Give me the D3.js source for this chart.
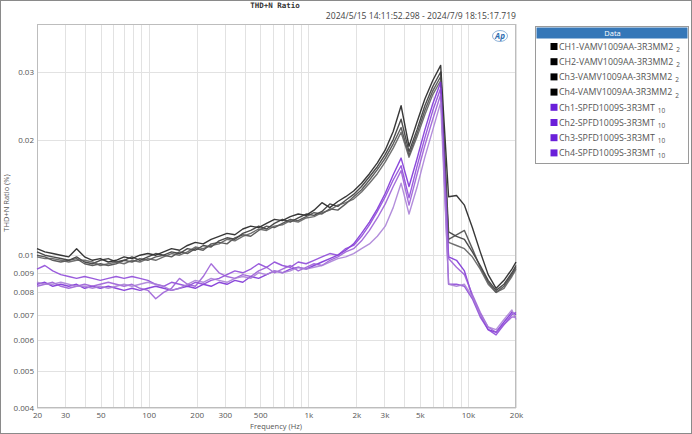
<!DOCTYPE html>
<html><head><meta charset="utf-8">
<script src="https://cdn.jsdelivr.net/npm/d3@7"></script>
<style>
html,body{margin:0;padding:0;background:#fff;}
svg{display:block;font-family:"Open Sans","Noto Sans",sans-serif;}
</style></head>
<body><svg id="c" width="692" height="434"></svg>
<script>
const freqs = [20,22.4,25.1,28.2,31.6,35.4,39.7,44.5,49.8,55.9,62.6,70.2,78.7,88.2,98.9,110.8,124.2,139.2,156.1,175,196.1,219.8,246.4,276.2,309.6,347,389,436,488.8,547.9,614.1,688.4,771.6,864.9,969.5,1087,1218,1365,1531,1716,1923,2156,2416,2708,3036,3403,3814,4276,4793,5372,6022,6750,7566,8481,9506,10656,11944,13388,15007,16822,18856,20000];

const ch1Vamv = [.0104,.0102,.0101,.0100,.0099,.0104,.0099,.0097,.0098,.0096,.0097,.0099,.0098,.0100,.0101,.0100,.0102,.0104,.0103,.0106,.0108,.0107,.0110,.0112,.0114,.0113,.0117,.0119,.0118,.0121,.0124,.0123,.0126,.0128,.0127,.0131,.0137,.0133,.0138,.0142,.0147,.0154,.0163,.0174,.0188,.0210,.0245,.0192,.0222,.0255,.0285,.0312,.0142,.0143,.0135,.0118,.0102,.0089,.0082,.0086,.0092,.0096];
const ch2Vamv = [.0102,.0100,.0099,.0098,.0097,.0099,.0096,.0095,.0097,.0098,.0096,.0097,.0099,.0097,.0099,.0101,.0100,.0102,.0101,.0104,.0103,.0106,.0105,.0109,.0111,.0110,.0114,.0116,.0119,.0117,.0121,.0124,.0122,.0125,.0128,.0127,.0130,.0136,.0134,.0139,.0144,.0151,.0160,.0170,.0183,.0200,.0226,.0186,.0212,.0245,.0275,.0300,.0115,.0112,.0110,.0102,.0094,.0086,.0081,.0084,.0090,.0094];
const ch3Vamv = [.0100,.0099,.0097,.0096,.0097,.0098,.0095,.0094,.0095,.0094,.0095,.0097,.0096,.0098,.0097,.0099,.0100,.0099,.0102,.0101,.0104,.0103,.0107,.0108,.0107,.0111,.0113,.0112,.0116,.0119,.0118,.0121,.0124,.0123,.0126,.0129,.0128,.0132,.0131,.0136,.0142,.0148,.0157,.0167,.0179,.0195,.0215,.0182,.0207,.0238,.0268,.0292,.0110,.0113,.0116,.0104,.0093,.0085,.0080,.0083,.0089,.0093];
const ch4Vamv = [.0099,.0098,.0098,.0097,.0096,.0097,.0097,.0096,.0094,.0095,.0096,.0095,.0097,.0096,.0098,.0097,.0099,.0101,.0100,.0102,.0105,.0104,.0106,.0107,.0110,.0109,.0112,.0114,.0117,.0116,.0119,.0120,.0123,.0122,.0125,.0126,.0129,.0131,.0135,.0137,.0140,.0146,.0154,.0163,.0175,.0190,.0209,.0180,.0203,.0232,.0262,.0285,.0108,.0106,.0104,.0099,.0092,.0084,.0080,.0082,.0088,.0092];

const ch1Spfd = [.0084,.0085,.0083,.0084,.0083,.0084,.0082,.0083,.0082,.0083,.0082,.0081,.0082,.0081,.0082,.0083,.0082,.0081,.0082,.0083,.0082,.0084,.0083,.0085,.0084,.0086,.0085,.0088,.0087,.0089,.0091,.0090,.0092,.0093,.0092,.0094,.0096,.0098,.0100,.0103,.0107,.0114,.0122,.0132,.0145,.0162,.0179,.0151,.0178,.0212,.0248,.0282,.0099,.0097,.0091,.0078,.0070,.0064,.0063,.0067,.0071,.0070];
const ch2Spfd = [.0092,.0094,.0091,.0089,.0088,.0087,.0088,.0087,.0086,.0087,.0088,.0087,.0088,.0087,.0086,.0084,.0083,.0085,.0084,.0083,.0085,.0084,.0086,.0087,.0089,.0091,.0090,.0092,.0095,.0093,.0096,.0094,.0093,.0096,.0095,.0097,.0099,.0101,.0100,.0104,.0106,.0112,.0120,.0130,.0142,.0157,.0171,.0141,.0170,.0202,.0238,.0272,.0084,.0084,.0083,.0077,.0069,.0064,.0062,.0066,.0070,.0071];
const ch3Spfd = [.0083,.0084,.0085,.0083,.0082,.0083,.0084,.0083,.0084,.0085,.0084,.0083,.0084,.0082,.0081,.0077,.0080,.0082,.0087,.0084,.0083,.0088,.0095,.0090,.0088,.0087,.0089,.0088,.0091,.0093,.0090,.0092,.0094,.0091,.0093,.0095,.0094,.0097,.0099,.0102,.0104,.0109,.0116,.0125,.0136,.0151,.0166,.0135,.0162,.0193,.0226,.0262,.0098,.0093,.0089,.0079,.0071,.0065,.0063,.0066,.0069,.0069];
const ch4Spfd = [.0085,.0084,.0084,.0085,.0084,.0083,.0083,.0082,.0083,.0082,.0083,.0084,.0083,.0084,.0085,.0084,.0083,.0081,.0082,.0084,.0086,.0085,.0087,.0086,.0085,.0087,.0088,.0087,.0090,.0089,.0091,.0090,.0091,.0093,.0092,.0093,.0094,.0096,.0098,.0099,.0101,.0104,.0107,.0112,.0119,.0133,.0154,.0128,.0150,.0180,.0212,.0250,.0084,.0083,.0084,.0078,.0070,.0065,.0064,.0068,.0072,.0068];

const seriesNames = ["CH1-VAMV1009AA-3R3MM2","CH2-VAMV1009AA-3R3MM2","Ch3-VAMV1009AA-3R3MM2","Ch4-VAMV1009AA-3R3MM2","Ch1-SPFD1009S-3R3MT","Ch2-SPFD1009S-3R3MT","Ch3-SPFD1009S-3R3MT","Ch4-SPFD1009S-3R3MT"];
const seriesSuffix = ["2","2","2","2","10","10","10","10"];
const seriesValues = [ch1Vamv,ch2Vamv,ch3Vamv,ch4Vamv,ch1Spfd,ch2Spfd,ch3Spfd,ch4Spfd];
const xTickValues = [20,30,50,100,200,300,500,1000,2000,3000,5000,10000,20000];
const xTickLabels = ["20","30","50","100","200","300","500","1k","2k","3k","5k","10k","20k"];
const yTickValues = [0.004,0.005,0.006,0.007,0.008,0.009,0.01,0.02,0.03];
const yTickLabels = ["0.004","0.005","0.006","0.007","0.008","0.009","0.01","0.02","0.03"];

const lineColors = ["#1c1c1c","#333333","#474747","#5c5c5c","#7b2fd6","#8c45d8","#9a5bd6","#a97ed6"];
const swatchColors = ["#000","#000","#000","#000","#6a1fd9","#6a1fd9","#6a1fd9","#6a1fd9"];

const svg = d3.select("#c");
const L=37,R=516,T=24,B=408;
const x = d3.scaleLog().domain([20,20000]).range([L,R]);
const y = d3.scaleLog().domain([0.004,0.04]).range([B,T]);

// outer frame
svg.append("rect").attr("x",0.5).attr("y",0.5).attr("width",691).attr("height",433)
  .attr("fill","#fff").attr("stroke","#8a8a8a").attr("stroke-width",1);

// title + date
svg.append("text").attr("x",275).attr("y",8).attr("text-anchor","middle")
  .style("font-family","'DejaVu Sans Mono',monospace").style("font-size","7.5px").style("font-weight","bold")
  .attr("fill","#333").text("THD+N Ratio");
svg.append("text").attr("x",516).attr("y",19).attr("text-anchor","end")
  .style("font-size","8.6px").attr("fill","#444").text("2024/5/15 14:11:52.298 - 2024/7/9 18:15:17.719");

// grid
const g = svg.append("g");
g.selectAll("line.vg").data(x.ticks()).join("line")
  .attr("x1",d=>Math.round(x(d))+0.5).attr("x2",d=>Math.round(x(d))+0.5).attr("y1",T).attr("y2",B)
  .attr("stroke","#e2e2e2").attr("stroke-width",1);
g.selectAll("line.hg").data(yTickValues).join("line")
  .attr("x1",L).attr("x2",R).attr("y1",d=>Math.round(y(d))+0.5).attr("y2",d=>Math.round(y(d))+0.5)
  .attr("stroke","#e2e2e2").attr("stroke-width",1);
svg.append("rect").attr("x",L+0.5).attr("y",T+0.5).attr("width",R-L-1).attr("height",B-T-1)
  .attr("fill","none").attr("stroke","#bdbdbd");

// axes
const xAxis = d3.axisBottom(x).tickValues(xTickValues).tickFormat((d,i)=>xTickLabels[i]).tickSize(0).tickPadding(4);
const xg = svg.append("g").attr("transform",`translate(0,${B})`).call(xAxis);
xg.select(".domain").remove();
xg.selectAll("text").style("font-size","8px").attr("fill","#555").style("font-family","'Open Sans',sans-serif");
const yAxis = d3.axisLeft(y).tickValues(yTickValues).tickFormat((d,i)=>yTickLabels[i]).tickSize(0).tickPadding(3);
const yg = svg.append("g").attr("transform",`translate(${L},0)`).call(yAxis);
yg.select(".domain").remove();
yg.selectAll("text").style("font-size","8px").attr("fill","#555").style("font-family","'Open Sans',sans-serif");

svg.append("text").attr("x",276).attr("y",429).attr("text-anchor","middle")
  .style("font-size","7.5px").attr("fill","#555").text("Frequency (Hz)");
svg.append("text").attr("transform","translate(9,203) rotate(-90)").attr("text-anchor","middle")
  .style("font-size","7.5px").attr("fill","#555").text("THD+N Ratio (%)");

// logo
const lg = svg.append("g").attr("transform","translate(500,36)");
lg.append("ellipse").attr("rx",7.5).attr("ry",5.5).attr("fill","none").attr("stroke","#8fb3d9").attr("stroke-width",1);
lg.append("text").attr("x",0).attr("y",3).attr("text-anchor","middle").style("font-size","8px")
  .style("font-style","italic").style("font-weight","bold").attr("fill","#2b6cb0").text("Ap");

// lines
const line = d3.line().x((d,i)=>x(freqs[i])).y(d=>y(d));
svg.append("g").selectAll("path").data(seriesValues).join("path")
  .attr("d",d=>line(d)).attr("fill","none")
  .attr("stroke",(d,i)=>lineColors[i]).attr("stroke-width",1.4)
  .attr("stroke-opacity",0.88).attr("stroke-linejoin","round");

// legend
const lx=535, ly=26, lw=153, lh=137;
svg.append("rect").attr("x",lx+0.5).attr("y",ly+0.5).attr("width",lw).attr("height",lh)
  .attr("fill","#fff").attr("stroke","#9a9a9a");
svg.append("rect").attr("x",lx+1.5).attr("y",ly+1.5).attr("width",lw-2).attr("height",11)
  .attr("fill","#3577b8");
svg.append("text").attr("x",lx+lw/2+1).attr("y",ly+10).attr("text-anchor","middle")
  .style("font-size","7.5px").attr("fill","#fff").text("Data");
const items = svg.append("g").selectAll("g").data(seriesNames).join("g")
  .attr("transform",(d,i)=>`translate(${lx},${46.5+i*15.2})`);
items.append("rect").attr("x",15.5).attr("y",-3.5).attr("width",7).attr("height",7).attr("fill",(d,i)=>swatchColors[i]);
items.append("text").attr("x",24).attr("y",3.3).style("font-size","8.8px").attr("fill","#555")
  .text(d=>d).each(function(d,i){
    const w=this.getComputedTextLength();
    d3.select(this.parentNode).append("text").attr("x",24+w+3).attr("y",5.5)
      .style("font-size","6.5px").attr("fill","#555").text(seriesSuffix[i]);
  });
</script></body></html>
